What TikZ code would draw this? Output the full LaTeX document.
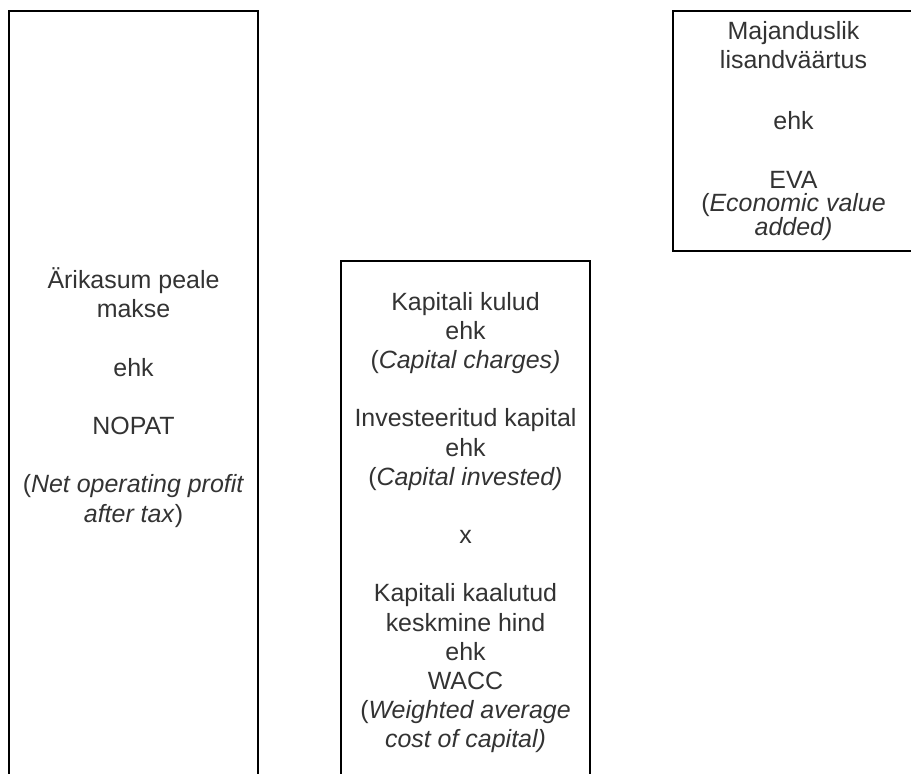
\documentclass[tikz,border=0pt]{standalone}
\usepackage{fontspec}
\setmainfont{Liberation Sans}
\usepackage{tikz}
\tikzset{
    every node/.style={rectangle, draw, line width=1.1pt, align=center, inner sep=0mm,
        text=black!80, font=\fontsize{14.2}{16.6}\selectfont}
}
\tikzset{kast/.style={minimum width=4.98cm}}

\begin{document}
\begin{tikzpicture}
    \useasboundingbox (0cm, 0cm) rectangle (18.22cm, -15.48cm);

    \node (nopat) [kast, minimum height=15.46cm] at (2.67cm, -7.95cm)
        {Ärikasum peale\\makse\\[16.6pt]ehk\\[16.6pt]NOPAT\\[16.6pt]%
         (\textit{Net operating profit}\\\textit{after tax})};

    \node (kulud) [kast, minimum height=10.46cm] at (9.31cm, -10.45cm)
        {Kapitali kulud\\ehk\\(\textit{Capital charges)}\\[16.6pt]%
         Investeeritud kapital\\ehk\\(\textit{Capital invested)}\\[16.6pt]%
         x\\[16.6pt]%
         Kapitali kaalutud\\keskmine hind\\ehk\\WACC\\%
         (\textit{Weighted average}\\\textit{cost of capital)}};

    \node (eva) [minimum width=4.82cm, minimum height=4.8cm] at (15.87cm, -2.62cm)
        {Majanduslik\\lisandväärtus\\[18pt]ehk\\[17pt]EVA\\[-3pt]%
         (\textit{Economic value}\\[-3pt]\textit{added)}};
\end{tikzpicture}
\end{document}
